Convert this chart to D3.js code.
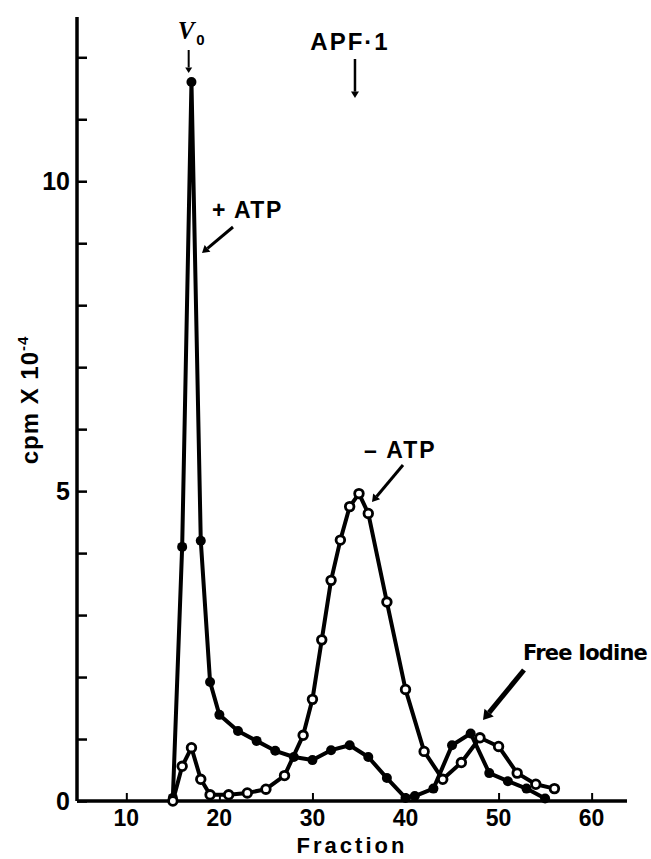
<!DOCTYPE html>
<html>
<head>
<meta charset="utf-8">
<script src="https://cdn.jsdelivr.net/npm/d3@7"></script>
<style>
  body { margin: 0; background: #fff; }
  text { font-family: "Liberation Sans", Arial, sans-serif; font-weight: bold; fill: #000; }
</style>
</head>
<body>
<div></div>
<script>
// fractions and cpm (x 10^-4)
const plusFraction = [15, 16, 17, 18, 19, 20, 22, 24, 26, 28, 30, 32, 34, 36, 38, 40, 41, 43, 45, 47, 49, 51, 53, 55];
const plusCpm = [0.05, 4.1, 11.6, 4.2, 1.92, 1.39, 1.13, 0.97, 0.81, 0.71, 0.66, 0.82, 0.9, 0.71, 0.37, 0.05, 0.08, 0.2, 0.9, 1.09, 0.45, 0.32, 0.2, 0.04];

const minusFraction = [15, 16, 17, 18, 19, 21, 23, 25, 27, 29, 30, 31, 32, 33, 34, 35, 36, 38, 40, 42, 44, 46, 48, 50, 52, 54, 56];
const minusCpm = [0, 0.56, 0.86, 0.35, 0.1, 0.1, 0.13, 0.19, 0.41, 1.06, 1.64, 2.6, 3.56, 4.21, 4.75, 4.96, 4.64, 3.21, 1.8, 0.8, 0.35, 0.62, 1.02, 0.88, 0.45, 0.27, 0.2];

const xTicks = [10, 20, 30, 40, 50, 60];
const yLabelTicks = [0, 5, 10];
const yMinorTicks = [1, 2, 3, 4, 6, 7, 8, 9, 11, 12];

const W = 651, H = 859;

const svg = d3.select("body div")
    .append("svg")
    .attr("width", W)
    .attr("height", H);

// scales
const x = d3.scaleLinear().domain([4.7, 63.8]).range([77, 627]);
const y = d3.scaleLinear().domain([0, 12.65]).range([801, 17]);

// x axis (ticks point up into the plot)
const xAxis = svg.append("g")
    .attr("transform", `translate(0, ${y(0)})`)
    .call(d3.axisTop(x).tickValues(xTicks).tickSize(8).tickFormat(""));
xAxis.select(".domain").attr("stroke-width", 3.5).attr("d", `M${x.range()[0]},0H${x.range()[1]}`);
xAxis.selectAll(".tick line").attr("stroke-width", 2);

svg.append("g").selectAll("text")
    .data(xTicks)
    .join("text")
    .attr("x", d => x(d))
    .attr("y", y(0) + 25)
    .attr("text-anchor", "middle")
    .style("font-size", "23px")
    .text(d => d);

svg.append("text")
    .attr("x", 352)
    .attr("y", 853)
    .attr("text-anchor", "middle")
    .style("font-size", "22px")
    .style("letter-spacing", "3px")
    .text("Fraction");

// y axis (ticks point right into the plot)
const yAxis = svg.append("g")
    .attr("transform", `translate(${x(4.7)}, 0)`)
    .call(d3.axisRight(y).tickValues(yLabelTicks.concat(yMinorTicks)).tickSize(10).tickFormat(""));
yAxis.select(".domain").attr("stroke-width", 3.5).attr("d", `M0,${y.range()[0]}V${y.range()[1]}`);
yAxis.selectAll(".tick line").attr("stroke-width", 2.5);

svg.append("g").selectAll("text")
    .data(yLabelTicks)
    .join("text")
    .attr("x", 70)
    .attr("y", d => y(d) + 9)
    .attr("text-anchor", "end")
    .style("font-size", "25px")
    .text(d => d);

// y axis label
const yl = svg.append("text")
    .attr("transform", `translate(38, 400) rotate(-90)`)
    .attr("text-anchor", "middle")
    .style("font-size", "24px")
    .style("letter-spacing", "1px");
yl.append("tspan").text("cpm X 10");
yl.append("tspan").attr("dy", -10).style("font-size", "15px").text("-4");

// lines
const line = d3.line().x(d => x(d[0])).y(d => y(d[1]));
const plusData = d3.zip(plusFraction, plusCpm);
const minusData = d3.zip(minusFraction, minusCpm);

svg.append("path")
    .datum(minusData)
    .attr("d", line)
    .attr("fill", "none")
    .attr("stroke", "#000")
    .attr("stroke-width", 4)
    .attr("stroke-linejoin", "round");

svg.append("path")
    .datum(plusData)
    .attr("d", line)
    .attr("fill", "none")
    .attr("stroke", "#000")
    .attr("stroke-width", 4)
    .attr("stroke-linejoin", "round");

// filled dots (+ATP)
svg.append("g").selectAll("circle")
    .data(plusData)
    .join("circle")
    .attr("cx", d => x(d[0]))
    .attr("cy", d => y(d[1]))
    .attr("r", 5)
    .attr("fill", "#000");

// open dots (-ATP)
svg.append("g").selectAll("circle")
    .data(minusData)
    .join("circle")
    .attr("cx", d => x(d[0]))
    .attr("cy", d => y(d[1]))
    .attr("r", 4.3)
    .attr("fill", "#fff")
    .attr("stroke", "#000")
    .attr("stroke-width", 2.8);

// arrow helper
function arrow(x1, y1, x2, y2, w, head) {
    const a = Math.atan2(y2 - y1, x2 - x1);
    const bx = x2 - head * 1.6 * Math.cos(a), by = y2 - head * 1.6 * Math.sin(a);
    svg.append("line")
        .attr("x1", x1).attr("y1", y1).attr("x2", bx).attr("y2", by)
        .attr("stroke", "#000").attr("stroke-width", w);
    const px = -Math.sin(a) * head, py = Math.cos(a) * head;
    svg.append("path")
        .attr("d", `M${x2},${y2}L${bx + px},${by + py}L${bx - px},${by - py}Z`)
        .attr("fill", "#000");
}

// V0 marker
const v0 = svg.append("text")
    .attr("x", x(16.7) - 11)
    .attr("y", 39)
    .style("font-size", "25px")
    .style("font-family", "'Liberation Serif', serif")
    .style("font-style", "italic");
v0.append("tspan").text("V");
v0.append("tspan").attr("dy", 6).attr("dx", 2).style("font-size", "15px")
    .style("font-family", "'Liberation Sans', sans-serif").style("font-style", "normal").text("0");
arrow(x(16.7), 50, x(16.7), 73, 2, 3.5);

// APF-1 marker
svg.append("text")
    .attr("x", 350)
    .attr("y", 50)
    .attr("text-anchor", "middle")
    .style("font-size", "24px")
    .style("letter-spacing", "2px")
    .text("APF\u00b71");
arrow(x(34.57), 59, x(34.57), 98, 2.5, 4);

// +ATP label
svg.append("text")
    .attr("x", 212)
    .attr("y", 218)
    .style("font-size", "23px")
    .style("letter-spacing", "1.5px")
    .text("+ ATP");
arrow(233, 227, 202, 253, 3, 4.5);

// -ATP label
svg.append("text")
    .attr("x", 364)
    .attr("y", 458)
    .style("font-size", "23px")
    .style("letter-spacing", "2px")
    .text("\u2013 ATP");
arrow(403, 465, 372, 502, 3, 4.5);

// Free iodine label
svg.append("text")
    .attr("x", 585)
    .attr("y", 660)
    .attr("text-anchor", "middle")
    .style("font-size", "21px")
    .style("font-family", "'DejaVu Sans', sans-serif")
    .style("letter-spacing", "-0.8px")
    .text("Free Iodine");
arrow(524, 670, 483, 720, 5, 6);
</script>
</body>
</html>
